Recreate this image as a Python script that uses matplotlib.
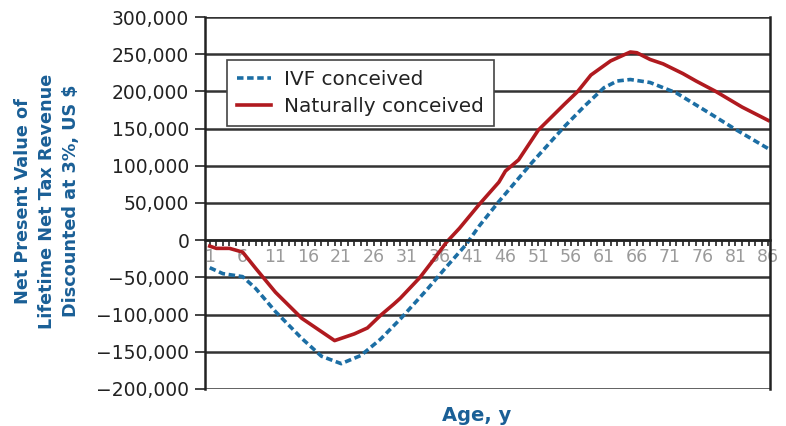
import numpy as np
import matplotlib
matplotlib.use("Agg")
import matplotlib.pyplot as plt
from matplotlib.ticker import FuncFormatter, MultipleLocator

# values (age, net present value in US $)
ivf_ages = [1, 3, 6, 8, 11, 15, 18, 21, 24, 27, 30, 34, 37, 40, 42, 45, 50, 55,
            58, 61, 63, 65, 68, 72, 77, 81, 86]
ivf_vals = [-37000, -45000, -49000, -65000, -96000, -132000, -156000, -166000,
            -155000, -133000, -106000, -67000, -36000, -6000, 19000, 52000,
            104000, 153000, 180000, 205000, 214000, 216000, 212000, 198000,
            171000, 149000, 123000]

nat_ages = [1, 2, 4, 6, 8, 11, 15, 20, 23, 25, 27, 29, 30, 33, 35, 37, 39, 42,
            45, 46, 48, 51, 55, 57, 59, 62, 65, 66, 68, 70, 73, 75, 78, 82, 86]
nat_vals = [-8000, -11000, -11000, -16000, -38000, -70000, -105000, -135000,
            -126000, -118000, -101000, -86000, -78000, -50000, -27000, -3000,
            16000, 48000, 78000, 93000, 108000, 148000, 183000, 200000, 222000,
            241000, 253000, 252000, 243000, 237000, 224000, 214000, 200000,
            179000, 161000]

age_labels = list(range(1, 87, 5))

blue = '#1c6ea4'
red = '#b01a1f'
label_blue = '#1a5f96'

plt.rcParams['font.family'] = 'DejaVu Sans'

fig = plt.figure(figsize=(7.86, 4.26), dpi=100)
ax = fig.add_axes([0.261, 0.087, 0.719, 0.873])

ax.plot(ivf_ages, ivf_vals, color=blue, lw=2.6, ls=(0, (1.8, 1.0)), label='IVF conceived')
ax.plot(nat_ages, nat_vals, color=red, lw=2.6, label='Naturally conceived')

ax.set_xlim(0.3, 86.3)
ax.set_ylim(-200000, 300000)
ax.yaxis.set_major_locator(MultipleLocator(50000))
ax.yaxis.set_major_formatter(FuncFormatter(lambda v, p: '{:,.0f}'.format(v).replace('-', '\u2212')))
ax.grid(axis='y', color='#333333', lw=1.8)
ax.set_axisbelow(True)

ax.spines['bottom'].set_position(('data', 0))
ax.spines['bottom'].set_color('#222222')
ax.spines['bottom'].set_linewidth(1.8)
ax.spines['top'].set_visible(False)
ax.spines['left'].set_color('#222222')
ax.spines['right'].set_color('#222222')
ax.spines['left'].set_linewidth(1.8)
ax.spines['right'].set_linewidth(1.8)

ax.set_xticks(age_labels)
ax.set_xticklabels([str(a) for a in age_labels])
ax.set_xticks(range(1, 87), minor=True)
ax.tick_params(axis='x', which='both', direction='out', length=4, width=1.2,
               color='#222222', labelcolor='#9a9a9a', labelsize=12.5, pad=1.5)
ax.tick_params(axis='y', direction='out', length=7, width=1.2, color='#222222',
               labelcolor='#222222', labelsize=13.5, pad=4.5)

ax.set_xlabel('Age, y', color=label_blue, fontsize=14, fontweight='bold', labelpad=0)
ax.xaxis.set_label_coords(0.48, -0.045)
fig.text(0.06, 0.528, 'Net Present Value of\nLifetime Net Tax Revenue\nDiscounted at 3%, US $',
         rotation=90, ha='center', va='center', color=label_blue, fontsize=12.7,
         fontweight='bold', linespacing=1.42)

leg = ax.legend(loc='upper left', bbox_to_anchor=(0.039, 0.884), fontsize=14.4,
                frameon=True, fancybox=False, handlelength=1.7, handletextpad=0.65,
                borderpad=0.5, labelspacing=0.4, borderaxespad=0)
leg.get_frame().set_edgecolor('#444444')
leg.get_frame().set_linewidth(1.2)
leg.get_frame().set_alpha(1)
for t in leg.get_texts():
    t.set_color('#222222')

fig.savefig('out.png', dpi=100)
